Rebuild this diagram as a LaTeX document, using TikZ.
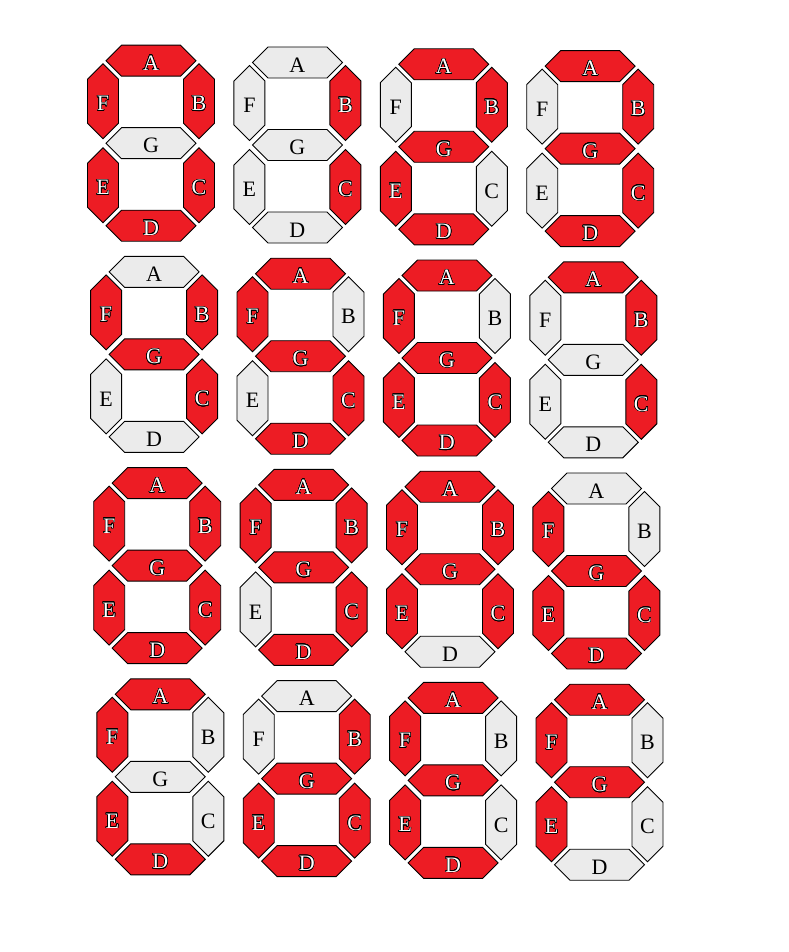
\documentclass[tikz,border=0pt]{standalone}
\usepackage{fontspec}
\setmainfont{Liberation Serif}
\usepackage{contour}
\contourlength{0.55pt}
\contournumber{24}

\definecolor{segon}{RGB}{237,28,36}
\definecolor{segoff}{RGB}{235,235,235}

\tikzset{
  seg/.style={draw=black, line width=0.9pt, line join=miter},
  segtext/.style={font=\fontsize{22}{24}\selectfont, inner sep=0pt},
}

\newcommand{\litlabel}[1]{\contour{black}{#1}}
\newcommand{\dimlabel}[1]{#1}

% choose fill, ink and label look for one bar
\makeatletter
\newcommand{\pickstyle}[2]{%
  \edef\@tmpa{\noexpand\in@{,#1,}{,#2,}}\@tmpa
  \ifin@
    \def\segfill{segon}\def\segink{white}\let\seglabel\litlabel
  \else
    \def\segfill{segoff}\def\segink{black}\let\seglabel\dimlabel
  \fi}
\makeatother

% horizontal bar: centre x, centre y, letter
\newcommand{\hseg}[3]{%
  \draw[seg, fill=\segfill] (#1-45,#2) -- (#1-29.5,#2-15.5) -- (#1+29.5,#2-15.5)
    -- (#1+45,#2) -- (#1+29.5,#2+15.5) -- (#1-29.5,#2+15.5) -- cycle;
  \node[segtext, text=\segink] at (#1,#2+2.5) {\seglabel{#3}};}
% vertical bar: centre x, centre y, letter
\newcommand{\vseg}[3]{%
  \draw[seg, fill=\segfill] (#1,#2-37.5) -- (#1+15.5,#2-22) -- (#1+15.5,#2+22)
    -- (#1,#2+37.5) -- (#1-15.5,#2+22) -- (#1-15.5,#2-22) -- cycle;
  \node[segtext, text=\segink] at (#1,#2+2.5) {\seglabel{#3}};}

% the seven bars around a digit centre
\newcommand{\segA}[2]{\hseg{#1}{#2-82.5}{A}}
\newcommand{\segB}[2]{\vseg{#1+48}{#2-42}{B}}
\newcommand{\segC}[2]{\vseg{#1+48}{#2+42}{C}}
\newcommand{\segD}[2]{\hseg{#1}{#2+82.5}{D}}
\newcommand{\segE}[2]{\vseg{#1-48}{#2+42}{E}}
\newcommand{\segF}[2]{\vseg{#1-48}{#2-42}{F}}
\newcommand{\segG}[2]{\hseg{#1}{#2}{G}}

\begin{document}
\begin{tikzpicture}[x=1pt, y=-1pt]
  \useasboundingbox (0,0) rectangle (788,952);

  % digits 0 to 9, then A to F, four to a row
  \foreach \lit [count=\n from 0] in {
      {A,B,C,D,E,F}, {B,C}, {A,B,D,E,G}, {A,B,C,D,G},
      {B,C,F,G}, {A,C,D,F,G}, {A,C,D,E,F,G}, {A,B,C},
      {A,B,C,D,E,F,G}, {A,B,C,D,F,G}, {A,B,C,E,F,G}, {C,D,E,F,G},
      {A,D,E,F}, {B,C,D,E,G}, {A,D,E,F,G}, {A,E,F,G}}{
    \pgfmathtruncatemacro{\row}{\n/4}
    \pgfmathtruncatemacro{\col}{\n-4*\row}
    \pgfmathsetmacro{\cx}{151+146.4*\col+3.1*\row}
    \pgfmathsetmacro{\cy}{143.2+1.8*\col+211.2*\row}
    \foreach \s in {A,B,C,D,E,F,G}{
      \pickstyle{\s}{\lit}
      \csname seg\s\endcsname{\cx}{\cy}
    }
  }
\end{tikzpicture}
\end{document}
